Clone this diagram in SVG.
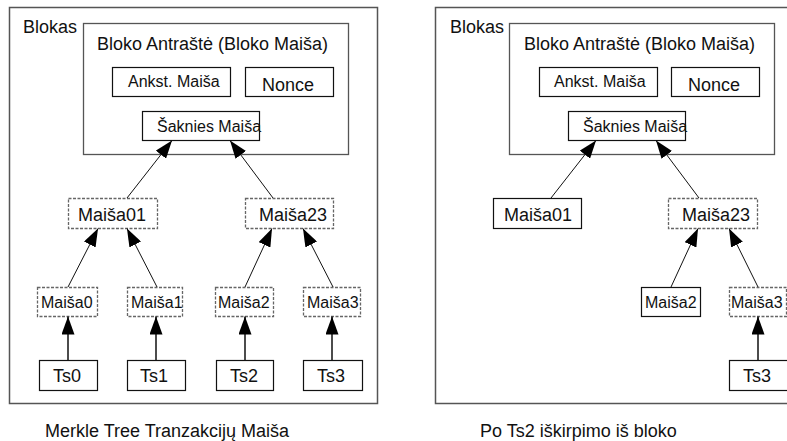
<svg xmlns="http://www.w3.org/2000/svg" width="787" height="441" viewBox="0 0 787 441">
<style>
text{font-family:"Liberation Sans",Arial,sans-serif;font-size:18px;fill:#111}
.s{font-size:16px}
.outer{fill:#fff;stroke:#555;stroke-width:1.5}
.hdr{fill:#fff;stroke:#555;stroke-width:1.3}
.box{fill:#fff;stroke:#111;stroke-width:1.2}
.dash{fill:#fff;stroke:#666;stroke-width:1.3;stroke-dasharray:3 1.5}
.ln{stroke:#111;stroke-width:1;fill:none;marker-end:url(#ah)}
.vl{stroke:#111;stroke-width:1.5;fill:none;marker-end:url(#ah)}
</style>
<defs>
<marker id="ah" viewBox="0 0 18 13" refX="18" refY="6.5" markerWidth="18" markerHeight="13" markerUnits="userSpaceOnUse" orient="auto">
<path d="M0,0 L18,6.5 L0,13 z" fill="#000"/>
</marker>
</defs>
<rect width="787" height="441" fill="#fff"/>

<!-- LEFT PANEL -->
<g id="left-block">
<rect class="outer" x="9.5" y="7.5" width="368" height="396"/>
<text x="23" y="33">Blokas</text>
</g>
<g id="left-header">
<rect class="hdr" x="83.5" y="23.5" width="265" height="131"/>
<text x="97" y="50">Bloko Antraštė (Bloko Maiša)</text>
</g>
<g id="left-prev"><rect class="box" x="112.5" y="67.5" width="118" height="29"/><text class="s" x="128" y="87">Ankst. Maiša</text></g>
<g id="left-nonce"><rect class="box" x="245.5" y="67.5" width="88" height="29"/><text x="262" y="91">Nonce</text></g>
<g id="left-root"><rect class="box" x="142.5" y="111.5" width="117" height="29"/><text class="s" x="157" y="132">Šaknies Maiša</text></g>
<g id="left-h01"><rect class="dash" x="68.5" y="198.5" width="89" height="30"/><text x="78" y="221">Maiša01</text></g>
<g id="left-h23"><rect class="dash" x="245.5" y="198.5" width="88" height="30"/><text x="259" y="221">Maiša23</text></g>
<g id="left-h0"><rect class="dash" x="37.5" y="287.5" width="60" height="29"/><text class="s" x="41" y="308">Maiša0</text></g>
<g id="left-h1"><rect class="dash" x="127.5" y="287.5" width="55" height="29"/><text class="s" x="131" y="308">Maiša1</text></g>
<g id="left-h2"><rect class="dash" x="215.5" y="287.5" width="58" height="29"/><text class="s" x="218" y="308">Maiša2</text></g>
<g id="left-h3"><rect class="dash" x="303.5" y="287.5" width="57" height="29"/><text class="s" x="307" y="308">Maiša3</text></g>
<g id="left-ts0"><rect class="box" x="39.5" y="360.5" width="58" height="30"/><text x="53" y="382">Ts0</text></g>
<g id="left-ts1"><rect class="box" x="127.5" y="360.5" width="58" height="30"/><text x="140" y="382">Ts1</text></g>
<g id="left-ts2"><rect class="box" x="216.5" y="360.5" width="57" height="30"/><text x="230" y="382">Ts2</text></g>
<g id="left-ts3"><rect class="box" x="303.5" y="360.5" width="59" height="30"/><text x="317" y="382">Ts3</text></g>
<g id="left-connectors">
<line class="ln" x1="127" y1="198" x2="172" y2="140.5"/>
<line class="ln" x1="273" y1="198" x2="230" y2="140.5"/>
<line class="ln" x1="68" y1="287" x2="98" y2="228.5"/>
<line class="ln" x1="157" y1="287" x2="127" y2="228.5"/>
<line class="ln" x1="245" y1="287" x2="272" y2="228.5"/>
<line class="ln" x1="333" y1="287" x2="303" y2="228.5"/>
<line class="vl" x1="68" y1="360" x2="68" y2="316.5"/>
<line class="vl" x1="156" y1="360" x2="156" y2="316.5"/>
<line class="vl" x1="245" y1="360" x2="245" y2="316.5"/>
<line class="vl" x1="332" y1="360" x2="332" y2="316.5"/>
</g>
<g id="left-caption"><text x="45" y="437">Merkle Tree Tranzakcijų Maiša</text></g>

<!-- RIGHT PANEL -->
<g id="right-block">
<rect class="outer" x="435.5" y="7.5" width="368" height="396"/>
<text x="450" y="33">Blokas</text>
</g>
<g id="right-header">
<rect class="hdr" x="509.5" y="23.5" width="265" height="131"/>
<text x="524" y="50">Bloko Antraštė (Bloko Maiša)</text>
</g>
<g id="right-prev"><rect class="box" x="539.5" y="67.5" width="118" height="29"/><text class="s" x="554" y="87">Ankst. Maiša</text></g>
<g id="right-nonce"><rect class="box" x="671.5" y="67.5" width="88" height="29"/><text x="688" y="91">Nonce</text></g>
<g id="right-root"><rect class="box" x="568.5" y="111.5" width="117" height="29"/><text class="s" x="583" y="132">Šaknies Maiša</text></g>
<g id="right-h01"><rect class="box" x="493.5" y="198.5" width="88" height="30"/><text x="504" y="221">Maiša01</text></g>
<g id="right-h23"><rect class="dash" x="668.5" y="198.5" width="89" height="30"/><text x="682" y="221">Maiša23</text></g>
<g id="right-h2"><rect class="box" x="641.5" y="287.5" width="59" height="29"/><text class="s" x="645" y="308">Maiša2</text></g>
<g id="right-h3"><rect class="dash" x="729.5" y="287.5" width="57" height="29"/><text class="s" x="731" y="308">Maiša3</text></g>
<g id="right-ts3"><rect class="box" x="729.5" y="360.5" width="70" height="30"/><text x="743" y="382">Ts3</text></g>
<g id="right-connectors">
<line class="ln" x1="551" y1="198" x2="596" y2="140.5"/>
<line class="ln" x1="699" y1="198" x2="656" y2="140.5"/>
<line class="ln" x1="671" y1="287" x2="698" y2="228.5"/>
<line class="ln" x1="758" y1="287" x2="729" y2="228.5"/>
<line class="vl" x1="758" y1="360" x2="758" y2="316.5"/>
</g>
<g id="right-caption"><text x="480" y="437">Po Ts2 iškirpimo iš bloko</text></g>
</svg>
